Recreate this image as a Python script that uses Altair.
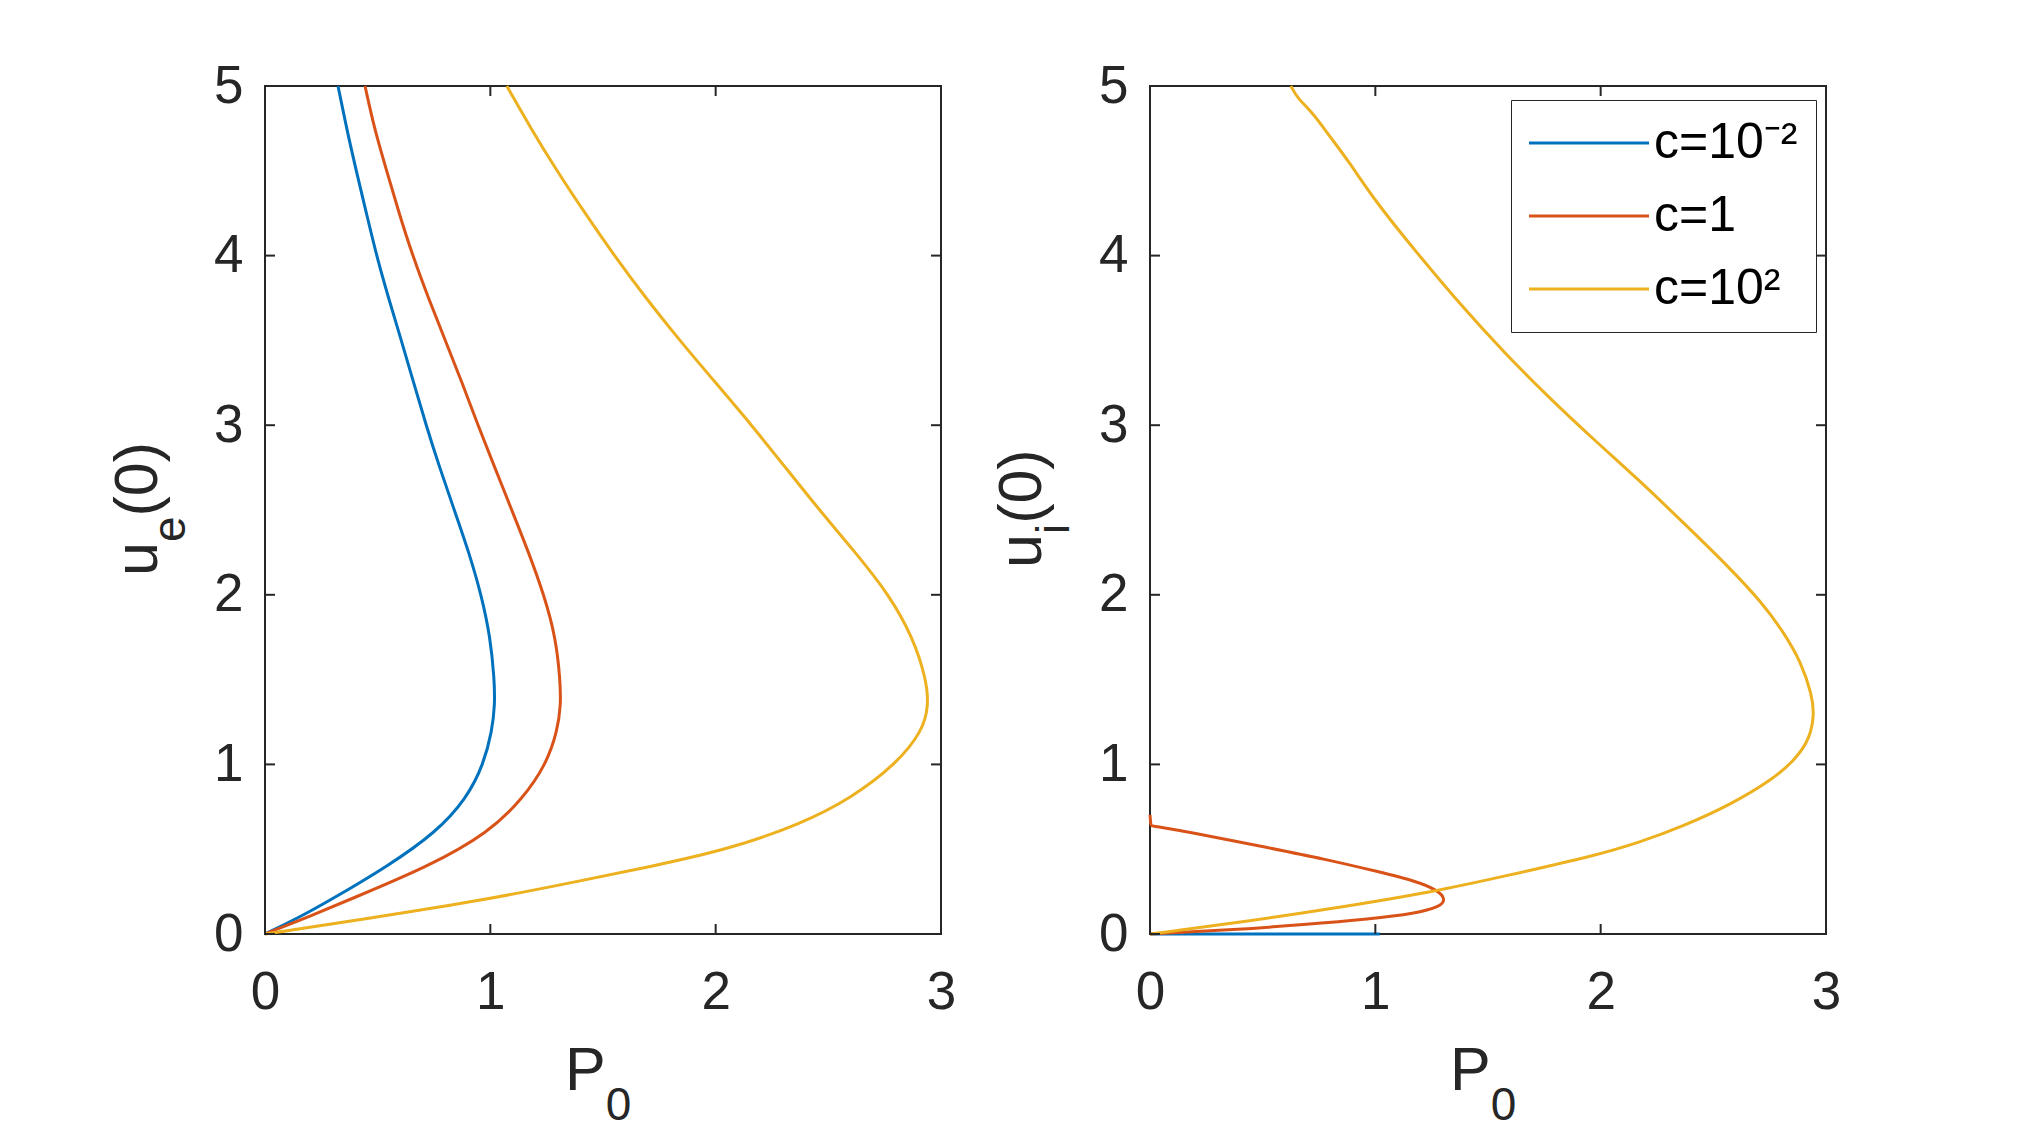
import altair as alt
import pandas as pd

SERIES = ["c=10⁻²", "c=1", "c=10²"]
COLORS = ["#0072BD", "#D95319", "#EDB120"]
X_TICKS = [0, 1, 2, 3]
Y_TICKS = [0, 1, 2, 3, 4, 5]

# ---- left panel: u_e(0) versus P_0 ----
L_BLUE_U = [5.0, 4.75, 4.5, 4.25, 4.0, 3.75, 3.5, 3.25, 3.0, 2.75, 2.5, 2.25, 2.0, 1.75, 1.5, 1.35, 1.2, 1.0, 0.8, 0.6, 0.4, 0.2, 0.1, 0.0]
L_BLUE_P = [0.324, 0.362, 0.405, 0.45, 0.495, 0.548, 0.605, 0.66, 0.715, 0.775, 0.84, 0.905, 0.96, 1.0, 1.018, 1.02, 1.008, 0.97, 0.895, 0.76, 0.545, 0.29, 0.155, 0.0]

L_RED_U = [5.0, 4.75, 4.5, 4.25, 4.0, 3.75, 3.5, 3.25, 3.0, 2.75, 2.5, 2.25, 2.0, 1.75, 1.5, 1.35, 1.2, 1.0, 0.8, 0.6, 0.4, 0.2, 0.1, 0.0]
L_RED_P = [0.444, 0.485, 0.54, 0.595, 0.655, 0.725, 0.80, 0.875, 0.945, 1.02, 1.095, 1.17, 1.238, 1.29, 1.31, 1.313, 1.298, 1.248, 1.145, 0.995, 0.73, 0.37, 0.19, 0.0]

L_YEL_U = [5.0, 4.75, 4.5, 4.25, 4.0, 3.75, 3.5, 3.25, 3.0, 2.75, 2.5, 2.25, 2.0, 1.75, 1.5, 1.35, 1.2, 1.0, 0.8, 0.65, 0.5, 0.4, 0.3, 0.2, 0.1, 0.0]
L_YEL_P = [1.073, 1.18, 1.295, 1.42, 1.55, 1.69, 1.84, 2.0, 2.16, 2.31, 2.46, 2.62, 2.77, 2.875, 2.935, 2.945, 2.92, 2.80, 2.60, 2.38, 2.06, 1.72, 1.35, 0.97, 0.50, 0.0]

# ---- right panel: u_i(0) versus P_0 ----
R_BLUE_U = [0.0, 0.0, 0.0]
R_BLUE_P = [0.0, 0.5, 1.02]

R_RED_U = [0.702, 0.639, 0.639, 0.599, 0.52, 0.441, 0.366, 0.313, 0.259, 0.204, 0.16, 0.121, 0.089, 0.055, 0.026, 0.0]
R_RED_P = [0.0, 0.004, 0.004, 0.183, 0.481, 0.78, 1.018, 1.178, 1.277, 1.313, 1.287, 1.178, 0.979, 0.68, 0.382, 0.0]

R_YEL_U = [5.0, 4.925, 4.846, 4.698, 4.56, 4.323, 4.027, 3.711, 3.424, 3.158, 2.911, 2.674, 2.42, 2.162, 1.964, 1.786, 1.608, 1.41, 1.292, 1.153, 1.035, 0.916, 0.758, 0.639, 0.54, 0.461, 0.342, 0.253, 0.144, 0.065, 0.0]
R_YEL_P = [0.625, 0.656, 0.72, 0.80, 0.88, 0.998, 1.178, 1.377, 1.575, 1.774, 1.973, 2.172, 2.371, 2.57, 2.709, 2.809, 2.888, 2.938, 2.948, 2.928, 2.868, 2.769, 2.57, 2.371, 2.172, 1.973, 1.575, 1.277, 0.78, 0.382, 0.0]

W, H = 676, 848
FONT = "Liberation Sans"
AX = "#262626"
TICK_FS = 53
TITLE_FS = 61
SUB_FS = 46
TICK_LEN = 10


def frame(series):
    rows = []
    for name, (ps, us) in zip(SERIES, series):
        for i, (p, u) in enumerate(zip(ps, us)):
            rows.append({"P": p, "u": u, "c": name, "i": i})
    return pd.DataFrame(rows)


def text_layer(txt, x, y, size, angle=0):
    return alt.Chart(pd.DataFrame({"t": [txt]})).mark_text(
        font=FONT, fontSize=size, color=AX, align="left", baseline="alphabetic", angle=angle
    ).encode(text="t:N", x=alt.value(x), y=alt.value(y))


def panel(df, sub, sub_w, ytitle_x, ytitle_y0, show_legend):
    xs = alt.Scale(domain=[0, 3], nice=False, zero=False)
    ys = alt.Scale(domain=[0, 5], nice=False, zero=False)
    xa = alt.Axis(values=X_TICKS, format="d", title=None, ticks=False, tickSize=0, domain=False, grid=False,
                  labelFontSize=TICK_FS, labelFont=FONT, labelColor=AX, labelPadding=32, labelFlush=False)
    ya = alt.Axis(values=Y_TICKS, format="d", title=None, ticks=False, tickSize=0, domain=False, grid=False,
                  labelFontSize=TICK_FS, labelFont=FONT, labelColor=AX, labelPadding=22, labelFlush=False)
    if show_legend:
        legend = alt.Legend(
            title=None, orient="none", legendX=361, legendY=14,
            symbolType="M-12,0H12", symbolSize=100, symbolStrokeWidth=3,
            symbolOffset=35, labelOffset=40, labelFontSize=50, labelFont=FONT,
            labelColor="#000000", labelLimit=500, strokeColor=AX, fillColor="#ffffff",
            padding=18, rowPadding=23, cornerRadius=0,
        )
    else:
        legend = None
    lines = alt.Chart(df).mark_line(strokeWidth=3, interpolate="basis", clip=False).encode(
        x=alt.X("P:Q", scale=xs, axis=xa),
        y=alt.Y("u:Q", scale=ys, axis=ya),
        color=alt.Color("c:N", scale=alt.Scale(domain=SERIES, range=COLORS), legend=legend),
        order=alt.Order("i:Q"),
    )
    xt = pd.DataFrame({"v": X_TICKS})
    yt = pd.DataFrame({"v": Y_TICKS})
    rule = dict(color=AX, strokeWidth=2)
    bottom = alt.Chart(xt).mark_rule(**rule).encode(
        x=alt.X("v:Q", scale=xs, axis=xa), y=alt.value(H), y2=alt.value(H - TICK_LEN))
    top = alt.Chart(xt).mark_rule(**rule).encode(
        x=alt.X("v:Q", scale=xs, axis=xa), y=alt.value(0), y2=alt.value(TICK_LEN))
    left = alt.Chart(yt).mark_rule(**rule).encode(
        y=alt.Y("v:Q", scale=ys, axis=ya), x=alt.value(0), x2=alt.value(TICK_LEN))
    right = alt.Chart(yt).mark_rule(**rule).encode(
        y=alt.Y("v:Q", scale=ys, axis=ya), x=alt.value(W), x2=alt.value(W - TICK_LEN))

    # y title: u_sub(0), rotated
    u_w = 0.556 * TITLE_FS
    t1 = text_layer("u", ytitle_x, ytitle_y0, TITLE_FS, 270)
    t2 = text_layer(sub, ytitle_x + 28, ytitle_y0 - u_w, SUB_FS, 270)
    t3 = text_layer("(0)", ytitle_x, ytitle_y0 - u_w - sub_w, TITLE_FS, 270)
    # x title: P_0
    px = W / 2 - 38
    t4 = text_layer("P", px, H + 156, TITLE_FS)
    t5 = text_layer("0", px + 0.667 * TITLE_FS, H + 186, SUB_FS)

    return alt.layer(lines, bottom, top, left, right, t1, t2, t3, t4, t5).properties(width=W, height=H)


left_df = frame([(L_BLUE_P, L_BLUE_U), (L_RED_P, L_RED_U), (L_YEL_P, L_YEL_U)])
right_df = frame([(R_BLUE_P, R_BLUE_U), (R_RED_P, R_RED_U), (R_YEL_P, R_YEL_U)])

p1 = panel(left_df, "e", 0.556 * SUB_FS, -108, 490, False)
p2 = panel(right_df, "i", 0.222 * SUB_FS, -109, 482, True)

chart = alt.hconcat(p1, p2, spacing=33).resolve_scale(color="independent").resolve_legend(color="independent").properties(
    padding={"left": 98, "top": 51, "right": 20, "bottom": 10},
    background="#ffffff",
).configure_view(stroke=AX, strokeWidth=2)

chart.save("out.html", embed_options={"renderer": "svg", "actions": False})
